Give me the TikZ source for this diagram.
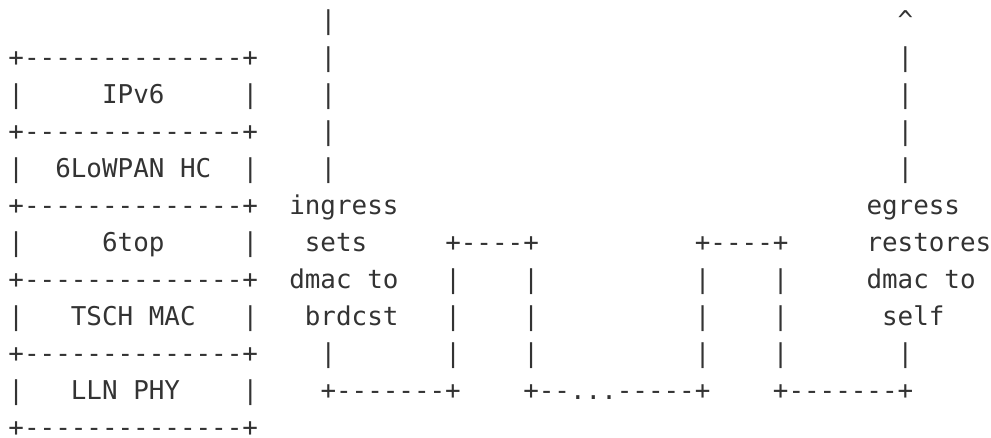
\documentclass[tikz,border=0pt]{standalone}
\usepackage{fontspec}
\setmonofont{DejaVu Sans Mono}
\definecolor{ink}{HTML}{333333}
\newcommand\tk[4]{\node[tok] (#1) at ({8.5+15.6*#2},{29+37*(#3-1)}) {#4};}
\begin{document}
\begin{tikzpicture}[x=1pt,y=-1pt,
  tok/.style={anchor=base west, inner sep=0pt, outer sep=0pt, text=ink,
    font=\ttfamily\fontsize{25.9}{37}\selectfont}]
\useasboundingbox (0,0) rectangle (991,437);
% line 1
\tk{a1}{20}{1}{|}
\tk{b1}{57}{1}{\textasciicircum}
% line 2
\tk{s2}{0}{2}{+--------------+}
\tk{a2}{20}{2}{|}
\tk{b2}{57}{2}{|}
% line 3
\tk{l3}{0}{3}{|}
\tk{t3}{6}{3}{IPv6}
\tk{r3}{15}{3}{|}
\tk{a3}{20}{3}{|}
\tk{b3}{57}{3}{|}
% line 4
\tk{s4}{0}{4}{+--------------+}
\tk{a4}{20}{4}{|}
\tk{b4}{57}{4}{|}
% line 5
\tk{l5}{0}{5}{|}
\tk{t5}{3}{5}{6LoWPAN HC}
\tk{r5}{15}{5}{|}
\tk{a5}{20}{5}{|}
\tk{b5}{57}{5}{|}
% line 6
\tk{s6}{0}{6}{+--------------+}
\tk{ing}{18}{6}{ingress}
\tk{egr}{55}{6}{egress}
% line 7
\tk{l7}{0}{7}{|}
\tk{t7}{6}{7}{6top}
\tk{r7}{15}{7}{|}
\tk{sets}{19}{7}{sets}
\tk{p7a}{28}{7}{+----+}
\tk{p7b}{44}{7}{+----+}
\tk{rest}{55}{7}{restores}
% line 8
\tk{s8}{0}{8}{+--------------+}
\tk{dm1}{18}{8}{dmac to}
\tk{v8a}{28}{8}{|}
\tk{v8b}{33}{8}{|}
\tk{v8c}{44}{8}{|}
\tk{v8d}{49}{8}{|}
\tk{dm2}{55}{8}{dmac to}
% line 9
\tk{l9}{0}{9}{|}
\tk{t9}{4}{9}{TSCH MAC}
\tk{r9}{15}{9}{|}
\tk{brd}{19}{9}{brdcst}
\tk{v9a}{28}{9}{|}
\tk{v9b}{33}{9}{|}
\tk{v9c}{44}{9}{|}
\tk{v9d}{49}{9}{|}
\tk{self}{56}{9}{self}
% line 10
\tk{s10}{0}{10}{+--------------+}
\tk{a10}{20}{10}{|}
\tk{v10a}{28}{10}{|}
\tk{v10b}{33}{10}{|}
\tk{v10c}{44}{10}{|}
\tk{v10d}{49}{10}{|}
\tk{b10}{57}{10}{|}
% line 11
\tk{l11}{0}{11}{|}
\tk{t11}{4}{11}{LLN PHY}
\tk{r11}{15}{11}{|}
\tk{h11a}{20}{11}{+-------+}
\tk{h11b}{33}{11}{+--...-----+}
\tk{h11c}{49}{11}{+-------+}
% line 12
\tk{s12}{0}{12}{+--------------+}
\end{tikzpicture}
\end{document}
